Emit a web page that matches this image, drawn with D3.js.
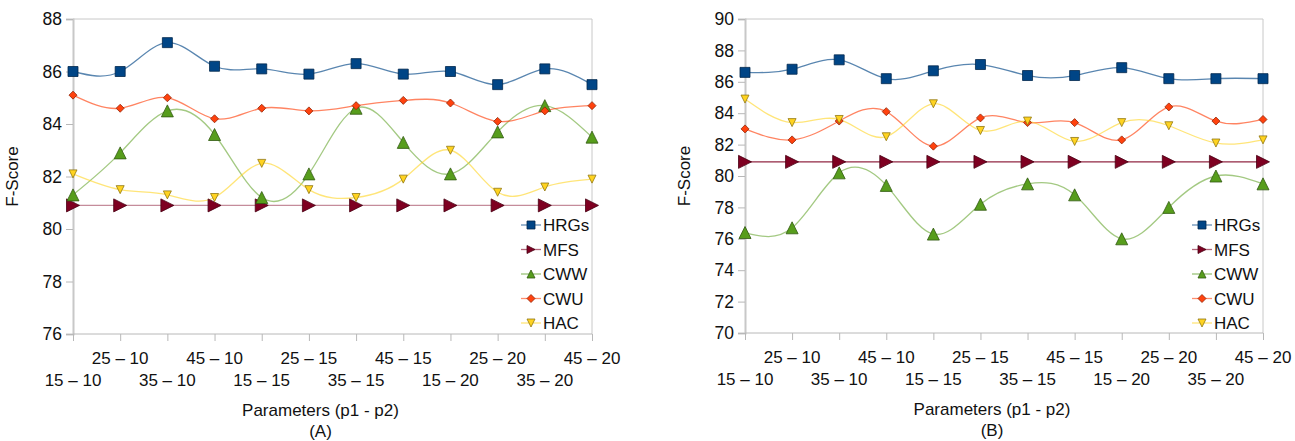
<!DOCTYPE html>
<html>
<head>
<meta charset="utf-8">
<script src="https://d3js.org/d3.v7.min.js"></script>
<style>
  body { margin: 0; background: #fff; }
  svg text { font-family: "Liberation Sans", Arial, sans-serif; fill: #111; }
</style>
</head>
<body>
<svg id="chart" width="1295" height="441"></svg>
<script>
// categories (p1 - p2)
const categories = ["15 – 10", "25 – 10", "35 – 10", "45 – 10", "15 – 15", "25 – 15",
                    "35 – 15", "45 – 15", "15 – 20", "25 – 20", "35 – 20", "45 – 20"];
const seriesNames = ["HRGs", "MFS", "CWW", "CWU", "HAC"];

// panel (A)
const hrgsA = [86.0, 86.0, 87.1, 86.2, 86.1, 85.9, 86.3, 85.9, 86.0, 85.5, 86.1, 85.5];
const mfsA  = [80.9, 80.9, 80.9, 80.9, 80.9, 80.9, 80.9, 80.9, 80.9, 80.9, 80.9, 80.9];
const cwwA  = [81.3, 82.9, 84.5, 83.6, 81.2, 82.1, 84.6, 83.3, 82.1, 83.7, 84.7, 83.5];
const cwuA  = [85.1, 84.6, 85.0, 84.2, 84.6, 84.5, 84.7, 84.9, 84.8, 84.1, 84.5, 84.7];
const hacA  = [82.1, 81.5, 81.3, 81.2, 82.5, 81.5, 81.2, 81.9, 83.0, 81.4, 81.6, 81.9];
const yTicksA = [76, 78, 80, 82, 84, 86, 88];

// panel (B)
const hrgsB = [86.6, 86.8, 87.4, 86.2, 86.7, 87.1, 86.4, 86.4, 86.9, 86.2, 86.2, 86.2];
const mfsB  = [80.9, 80.9, 80.9, 80.9, 80.9, 80.9, 80.9, 80.9, 80.9, 80.9, 80.9, 80.9];
const cwwB  = [76.4, 76.7, 80.2, 79.4, 76.3, 78.2, 79.5, 78.8, 76.0, 78.0, 80.0, 79.5];
const cwuB  = [83.0, 82.3, 83.5, 84.1, 81.9, 83.7, 83.4, 83.4, 82.3, 84.4, 83.5, 83.6];
const hacB  = [84.9, 83.4, 83.6, 82.5, 84.6, 82.9, 83.5, 82.2, 83.4, 83.2, 82.1, 82.3];
const yTicksB = [70, 72, 74, 76, 78, 80, 82, 84, 86, 88, 90];

// look of each series
const colors  = ["#004586", "#7e0021", "#579d1c", "#ff420e", "#ffd320"];
const shapes  = ["square", "right", "up", "diamond", "down"];
const sizes   = [10, 13, 12, 8, 8];

const svg = d3.select("#chart");

function markerPath(shape, s) {
  const h = s / 2;
  if (shape == "square") return `M${-h},${-h}H${h}V${h}H${-h}Z`;
  if (shape == "right") return `M${-h},${-h}L${h},0L${-h},${h}Z`;
  if (shape == "up") return `M0,${-h}L${h},${h}L${-h},${h}Z`;
  if (shape == "down") return `M${-h},${-h}L${h},${-h}L0,${h}Z`;
  return `M0,${-h}L${h},0L0,${h}L${-h},0Z`;
}

function drawPanel(p) {
  const x = d3.scalePoint().domain(categories).range([p.left, p.right]);
  const y = d3.scaleLinear().domain(p.domain).range([p.bottom, p.top]);
  const g = svg.append("g");

  // frame
  g.append("line").attr("x1", p.left).attr("x2", p.right).attr("y1", p.top).attr("y2", p.top)
    .attr("stroke", "#c8c8c8");
  g.append("line").attr("x1", p.right).attr("x2", p.right).attr("y1", p.top).attr("y2", p.bottom)
    .attr("stroke", "#c8c8c8");

  // y axis
  const yAxis = g.append("g").attr("transform", `translate(${p.left},0)`)
    .call(d3.axisLeft(y).tickValues(p.yTicks).tickSize(7).tickPadding(4).tickFormat(d3.format("d")));
  yAxis.select(".domain").attr("stroke", "#c8c8c8").attr("stroke-width", 2);
  yAxis.selectAll(".tick line").attr("stroke", "#b8b8b8");
  yAxis.selectAll("text").style("font-size", "17.5px").style("font-family", "Liberation Sans, Arial, sans-serif").attr("fill", "#111");

  // x axis
  const xAxis = g.append("g").attr("transform", `translate(0,${p.bottom})`)
    .call(d3.axisBottom(x).tickSize(7).tickFormat(""));
  xAxis.select(".domain").attr("stroke", "#b8b8b8").attr("d", `M${p.left},0H${p.right}`);
  xAxis.selectAll(".tick line").attr("stroke", "#b8b8b8");
  g.selectAll(".xlab").data(categories).enter().append("text")
    .attr("x", d => x(d))
    .attr("y", (d, i) => i % 2 == 0 ? p.bottom + 52 : p.bottom + 30)
    .attr("text-anchor", "middle").style("font-size", "17px")
    .text(d => d);

  const midX = (p.left + p.right) / 2 - 12;
  g.append("text").attr("x", midX).attr("y", p.bottom + 82).attr("text-anchor", "middle")
    .style("font-size", "17px").text("Parameters (p1 - p2)");
  g.append("text").attr("x", midX).attr("y", p.bottom + 103).attr("text-anchor", "middle")
    .style("font-size", "17px").text(p.label);
  g.append("text").attr("transform", `translate(${p.left - 55},${(p.top + p.bottom) / 2}) rotate(-90)`)
    .attr("text-anchor", "middle").style("font-size", "17px").text("F-Score");

  // lines then markers
  const line = d3.line().x((d, i) => x(categories[i])).y(d => y(d)).curve(d3.curveNatural);
  p.series.forEach((vals, k) => {
    g.append("path").attr("d", line(vals)).attr("fill", "none")
      .attr("stroke", colors[k]).attr("stroke-width", 1.3).attr("stroke-opacity", p.lineOpacity[k]);
  });
  p.series.forEach((vals, k) => {
    g.selectAll(null).data(vals).enter().append("path")
      .attr("transform", (d, i) => `translate(${x(categories[i])},${y(d)})`)
      .attr("d", markerPath(shapes[k], sizes[k]))
      .attr("fill", colors[k])
      .attr("stroke", d3.color(colors[k]).darker(1.6))
      .attr("stroke-width", 0.8);
  });

  // legend
  const lg = g.append("g");
  seriesNames.forEach((name, k) => {
    const ly = 225 + k * 24.5;
    const lx = p.right - 71;
    lg.append("line").attr("x1", lx).attr("x2", lx + 20).attr("y1", ly).attr("y2", ly)
      .attr("stroke", colors[k]).attr("stroke-width", 1.3).attr("stroke-opacity", 0.6);
    lg.append("path").attr("transform", `translate(${lx + 10},${ly})`)
      .attr("d", markerPath(shapes[k], 8))
      .attr("fill", colors[k]).attr("stroke", d3.color(colors[k]).darker(1.6)).attr("stroke-width", 0.8);
    lg.append("text").attr("x", lx + 22).attr("y", ly + 6).style("font-size", "17px").text(name);
  });
}

drawPanel({
  left: 73, right: 592, top: 19, bottom: 334, domain: [76, 88], yTicks: yTicksA, label: "(A)",
  series: [hrgsA, mfsA, cwwA, cwuA, hacA], lineOpacity: [0.65, 0.45, 0.55, 0.65, 0.6]
});
drawPanel({
  left: 745, right: 1263, top: 19, bottom: 333, domain: [70, 90], yTicks: yTicksB, label: "(B)",
  series: [hrgsB, mfsB, cwwB, cwuB, hacB], lineOpacity: [0.65, 0.85, 0.55, 0.65, 0.6]
});
</script>
</body>
</html>
